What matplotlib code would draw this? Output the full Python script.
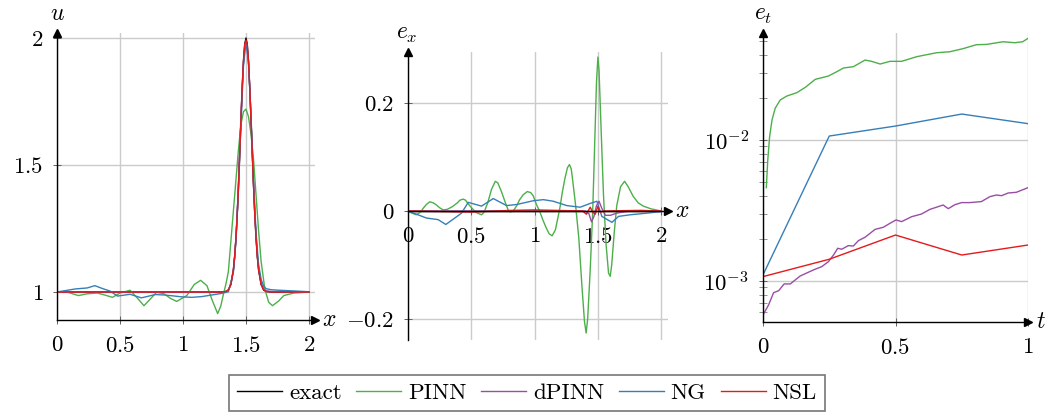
import numpy as np
import matplotlib
matplotlib.use("Agg")
import matplotlib.pyplot as plt
from matplotlib.ticker import FixedLocator, FixedFormatter, LogLocator, NullFormatter
import matplotlib.transforms as mtransforms

plt.rcParams['mathtext.fontset'] = 'cm'
plt.rcParams['font.family'] = ['cmr10', 'DejaVu Serif']
plt.rcParams['axes.formatter.use_mathtext'] = True

# ---------------- data ----------------
series_names = ['exact', 'PINN', 'dPINN', 'NG', 'NSL']
series_colors = ['#000000', '#4daf4a', '#984ea3', '#377eb8', '#e41a1c']

# Panel 1: solution u(x)
x_exact = [0.0, 1.30, 1.34, 1.36, 1.38, 1.40, 1.41, 1.42, 1.43, 1.44, 1.45, 1.46, 1.47, 1.48, 1.49, 1.50,
           1.51, 1.52, 1.53, 1.54, 1.55, 1.56, 1.57, 1.58, 1.59, 1.60, 1.62, 1.64, 1.66, 1.70, 2.0]
u_exact = [1.0, 1.0, 1.002, 1.008, 1.030, 1.087, 1.138, 1.210, 1.302, 1.415, 1.543, 1.677, 1.803, 1.907, 1.976, 2.0,
           1.976, 1.907, 1.803, 1.677, 1.543, 1.415, 1.302, 1.210, 1.138, 1.087, 1.030, 1.008, 1.002, 1.0, 1.0]
u_dpinn = [1.0, 1.0, 1.002, 1.008, 1.030, 1.087, 1.138, 1.210, 1.307, 1.427, 1.563, 1.692, 1.813, 1.907, 1.966, 1.986,
           1.958, 1.895, 1.797, 1.677, 1.548, 1.423, 1.310, 1.218, 1.146, 1.095, 1.036, 1.012, 1.005, 1.002, 1.0]
u_nsl = [1.0, 1.0, 1.002, 1.008, 1.030, 1.089, 1.144, 1.210, 1.299, 1.408, 1.541, 1.679, 1.807, 1.913, 1.976, 1.992,
         1.973, 1.909, 1.803, 1.677, 1.543, 1.415, 1.302, 1.210, 1.138, 1.087, 1.030, 1.008, 1.002, 1.0, 1.0]

x_pinn_u = [0.00, 0.08, 0.13, 0.17, 0.24, 0.32, 0.38, 0.44, 0.50, 0.58, 0.64, 0.69, 0.74, 0.79, 0.85, 0.90, 0.95,
            1.03, 1.09, 1.14, 1.19, 1.23, 1.275, 1.30, 1.32, 1.34, 1.36, 1.38, 1.40, 1.42, 1.44, 1.46, 1.48, 1.50,
            1.52, 1.54, 1.56, 1.58, 1.60, 1.62, 1.65, 1.68, 1.71, 1.76, 1.80, 1.88, 2.00]
u_pinn = [1.000, 1.000, 0.992, 0.986, 0.993, 0.996, 0.988, 0.979, 0.996, 1.007, 0.975, 0.946, 0.972, 0.999, 0.993,
          0.975, 0.963, 0.986, 1.030, 1.046, 1.025, 0.970, 0.915, 0.945, 0.990, 1.030, 1.080, 1.200, 1.320, 1.440,
          1.560, 1.660, 1.710, 1.720, 1.690, 1.620, 1.520, 1.380, 1.240, 1.120, 1.010, 0.960, 0.946, 0.965, 0.986,
          0.996, 1.000]

x_ng_u = [0.0, 0.145, 0.24, 0.30, 0.37, 0.42, 0.48, 0.58, 0.67, 0.78, 0.86, 0.99, 1.07, 1.15, 1.25, 1.30, 1.36,
          1.40, 1.42, 1.44, 1.46, 1.48, 1.50, 1.52, 1.54, 1.56, 1.58, 1.60, 1.62, 1.64, 1.66, 1.70, 1.76, 1.89, 2.0]
u_ng = [1.0, 1.012, 1.016, 1.025, 1.012, 1.004, 0.984, 0.991, 0.977, 0.990, 0.988, 0.981, 0.979, 0.982, 0.990,
        0.994, 1.001, 1.077, 1.198, 1.402, 1.663, 1.891, 1.982, 1.907, 1.692, 1.433, 1.230, 1.108, 1.050, 1.023,
        1.013, 1.009, 1.007, 1.004, 1.001]

# Panel 2: spatial error e_x
x_exact_e = [0.0, 2.0]
e_exact = [0.0, 0.0]
x_pinn_e = [0.00, 0.03, 0.066, 0.10, 0.12, 0.145, 0.172, 0.20, 0.22, 0.25,
            0.277, 0.31, 0.35, 0.39, 0.41, 0.436, 0.455, 0.47, 0.502, 0.54,
            0.581, 0.60, 0.63, 0.66, 0.69, 0.71, 0.74, 0.77, 0.793, 0.81,
            0.832, 0.86, 0.88, 0.91, 0.943, 0.97, 0.99, 1.015, 1.04, 1.065,
            1.09, 1.115, 1.139, 1.165, 1.20, 1.22, 1.24, 1.26, 1.276, 1.29,
            1.30, 1.325, 1.35, 1.375, 1.395, 1.408, 1.42, 1.44, 1.46, 1.475,
            1.49, 1.501, 1.51, 1.525, 1.545, 1.565, 1.585, 1.598, 1.61, 1.63,
            1.65, 1.68, 1.712, 1.74, 1.78, 1.82, 1.86, 1.92, 2.00]
e_pinn = [0.0, -0.004, -0.007, -0.002, 0.005, 0.012, 0.017, 0.015, 0.012, 0.006,
          0.002, 0.003, 0.008, 0.015, 0.020, 0.022, 0.020, 0.015, 0.006, -0.003,
          -0.007, -0.003, 0.015, 0.040, 0.055, 0.052, 0.035, 0.015, 0.001, -0.002,
          0.000, 0.010, 0.020, 0.030, 0.036, 0.034, 0.028, 0.012, 0.000, -0.016,
          -0.030, -0.042, -0.046, -0.035, 0.005, 0.035, 0.060, 0.080, 0.086, 0.078,
          0.060, 0.010, -0.050, -0.140, -0.205, -0.226, -0.200, -0.110, 0.000, 0.120,
          0.240, 0.285, 0.260, 0.160, 0.030, -0.060, -0.115, -0.121, -0.100, -0.040,
          0.010, 0.045, 0.055, 0.045, 0.027, 0.015, 0.009, 0.004, 0.0]
x_dpinn_e = [0.0, 1.40, 1.43, 1.45, 1.47, 1.49, 1.51, 1.53, 1.56, 1.60, 1.65, 1.75, 1.85, 2.0]
e_dpinn = [0.0, 0.0, -0.005, -0.020, -0.010, 0.010, 0.018, 0.006, -0.008, -0.008, -0.004, 0.0, 0.001, 0.0]
x_ng_e = [0.00, 0.145, 0.238, 0.299, 0.37, 0.423, 0.476, 0.581, 0.674, 0.779, 0.859, 0.991, 1.07, 1.149, 1.255,
          1.361, 1.44, 1.493, 1.532, 1.612, 1.664, 1.757, 1.889, 2.00]
e_ng = [0.0, -0.013, -0.016, -0.025, -0.013, -0.004, 0.016, 0.009, 0.023, 0.010, 0.012, 0.019, 0.021, 0.018,
        0.010, 0.007, 0.014, 0.018, -0.010, -0.021, -0.010, -0.007, -0.004, -0.001]
x_nsl_e = [0.0, 0.5, 0.8, 1.0, 1.38, 1.41, 1.44, 1.46, 1.48, 1.50, 1.52, 1.55, 1.8, 2.0]
e_nsl = [0.0, -0.002, 0.001, 0.002, 0.0, -0.006, 0.007, -0.002, -0.006, 0.008, -0.002, 0.0, 0.001, 0.0]

# Panel 3: error over time e_t
t_pinn = [0.0125, 0.018, 0.025, 0.034, 0.046, 0.065, 0.09, 0.128, 0.16, 0.197, 0.247, 0.279, 0.304, 0.341,
          0.385, 0.41, 0.442, 0.479, 0.523, 0.58, 0.655, 0.705, 0.755, 0.805, 0.843, 0.906, 0.95, 0.98, 1.0]
et_pinn = [4.59e-3, 7.21e-3, 1.057e-2, 1.387e-2, 1.679e-2, 1.923e-2, 2.051e-2, 2.168e-2, 2.366e-2, 2.692e-2,
           2.844e-2, 3.055e-2, 3.243e-2, 3.311e-2, 3.690e-2, 3.614e-2, 3.459e-2, 3.614e-2, 3.614e-2, 3.899e-2,
           4.159e-2, 4.227e-2, 4.446e-2, 4.742e-2, 4.764e-2, 4.977e-2, 4.898e-2, 4.977e-2, 5.260e-2]
t_dpinn = [0.0, 0.021, 0.04, 0.059, 0.08, 0.103, 0.14, 0.19, 0.222, 0.247, 0.266, 0.282, 0.297, 0.322, 0.341,
           0.36, 0.385, 0.404, 0.423, 0.454, 0.479, 0.502, 0.523, 0.561, 0.598, 0.63, 0.68, 0.699, 0.724, 0.749,
           0.78, 0.824, 0.856, 0.881, 0.9, 0.925, 0.956, 1.0]
et_dpinn = [5.74e-4, 6.76e-4, 8.26e-4, 8.53e-4, 9.53e-4, 9.53e-4, 1.084e-3, 1.197e-3, 1.265e-3, 1.371e-3,
            1.528e-3, 1.706e-3, 1.679e-3, 1.782e-3, 1.770e-3, 1.932e-3, 2.042e-3, 2.178e-3, 2.323e-3, 2.404e-3,
            2.564e-3, 2.710e-3, 2.636e-3, 2.858e-3, 2.985e-3, 3.221e-3, 3.459e-3, 3.258e-3, 3.475e-3, 3.597e-3,
            3.597e-3, 3.656e-3, 3.963e-3, 4.074e-3, 4.027e-3, 4.207e-3, 4.256e-3, 4.592e-3]
t_ng = [0.0, 0.25, 0.5, 0.75, 1.0]
et_ng = [1.104e-3, 1.067e-2, 1.256e-2, 1.528e-2, 1.306e-2]
t_nsl = [0.0, 0.25, 0.5, 0.75, 1.0]
et_nsl = [1.074e-3, 1.426e-3, 2.118e-3, 1.528e-3, 1.799e-3]

ticks_x = [0, 0.5, 1, 1.5, 2]
ticklabels_x = ['0', '0.5', '1', '1.5', '2']
ticks_u = [1, 1.5, 2]
ticklabels_u = ['1', '1.5', '2']
ticks_e = [-0.2, 0, 0.2]
ticklabels_e = ['-0.2', '0', '0.2']
ticks_t = [0, 0.5, 1]
ticklabels_t = ['0', '0.5', '1']
ticks_et = [1e-3, 1e-2]
ticklabels_et = ['10^{-3}', '10^{-2}']

# ---------------- figure ----------------
W, H = 1054, 420
fig = plt.figure(figsize=(W / 100, H / 100), dpi=100)

def box(l, t, r, b):
    return [l / W, 1 - b / H, (r - l) / W, (b - t) / H]

ax1 = fig.add_axes(box(57, 33, 315, 320))
ax2 = fig.add_axes(box(408, 52, 668, 340))
ax3 = fig.add_axes(box(763, 33, 1028, 322))

GRID = '#cbcbcb'
TICK = '#606060'
LW = 1.0
FS_TICK = 16.5
FS_LAB = 17

def style(ax):
    for s in ['top', 'right']:
        ax.spines[s].set_visible(False)
    for s in ['left', 'bottom']:
        ax.spines[s].set_linewidth(1.0)
        ax.spines[s].set_color('black')
        ax.spines[s].set_zorder(5)
    ax.grid(True, which='major', color=GRID, lw=1.0)
    ax.set_axisbelow(True)
    ax.tick_params(which='both', direction='inout', length=6, width=0.7, color=TICK,
                   labelsize=FS_TICK)
    ax.tick_params(axis='x', pad=8.5)
    ax.tick_params(axis='y', pad=7)

def math(lbls):
    return ['$' + s + '$' for s in lbls]

def arrows(ax, xy_x_trans=None):
    ax.plot([1], [0], marker='>', ms=6, color='k', transform=ax.transAxes if xy_x_trans is None else xy_x_trans,
            clip_on=False, zorder=6)
    ax.plot([0], [1], marker='^', ms=6, color='k', transform=ax.transAxes, clip_on=False, zorder=6)

# Panel 1
for xs, ys, c in [(x_exact, u_exact, series_colors[0]), (x_pinn_u, u_pinn, series_colors[1]),
                  (x_exact, u_dpinn, series_colors[2]), (x_ng_u, u_ng, series_colors[3]),
                  (x_exact, u_nsl, series_colors[4])]:
    ax1.plot(xs, ys, color=c, lw=LW)
ax1.set_xlim(0, 2.0476)
ax1.set_ylim(0.8898, 2.0197)
ax1.xaxis.set_major_locator(FixedLocator(ticks_x))
ax1.xaxis.set_major_formatter(FixedFormatter(math(ticklabels_x)))
ax1.yaxis.set_major_locator(FixedLocator(ticks_u))
ax1.yaxis.set_major_formatter(FixedFormatter(math(ticklabels_u)))
style(ax1)
arrows(ax1)

# Panel 2
for xs, ys, c in [(x_exact_e, e_exact, series_colors[0]), (x_pinn_e, e_pinn, series_colors[1]),
                  (x_dpinn_e, e_dpinn, series_colors[2]), (x_ng_e, e_ng, series_colors[3]),
                  (x_nsl_e, e_nsl, series_colors[4])]:
    ax2.plot(xs, ys, color=c, lw=LW)
ax2.set_xlim(0, 2.055)
ax2.set_ylim(-0.2389, 0.2944)
ax2.xaxis.set_major_locator(FixedLocator(ticks_x))
ax2.xaxis.set_major_formatter(FixedFormatter(math(ticklabels_x)))
ax2.yaxis.set_major_locator(FixedLocator(ticks_e))
ax2.yaxis.set_major_formatter(FixedFormatter(math(ticklabels_e)))
style(ax2)
ax2.spines['bottom'].set_position(('data', 0))
arrows(ax2, mtransforms.blended_transform_factory(ax2.transAxes, ax2.transData))

# Panel 3
for xs, ys, c in [(t_pinn, et_pinn, series_colors[1]), (t_dpinn, et_dpinn, series_colors[2]),
                  (t_ng, et_ng, series_colors[3]), (t_nsl, et_nsl, series_colors[4])]:
    ax3.plot(xs, ys, color=c, lw=LW)
ax3.set_yscale('log')
ax3.set_xlim(0, 1)
ax3.set_ylim(10 ** -3.291, 10 ** -1.241)
ax3.xaxis.set_major_locator(FixedLocator(ticks_t))
ax3.xaxis.set_major_formatter(FixedFormatter(math(ticklabels_t)))
ax3.yaxis.set_major_locator(FixedLocator(ticks_et))
ax3.yaxis.set_major_formatter(FixedFormatter(math(ticklabels_et)))
ax3.yaxis.set_minor_locator(LogLocator(base=10, subs=np.arange(2, 10)))
ax3.yaxis.set_minor_formatter(NullFormatter())
style(ax3)
ax3.tick_params(axis='y', which='minor', length=6, width=0.6, color='#808080')
arrows(ax3)

# axis labels
def ftext(x, y, s, ha='center'):
    fig.text(x / W, 1 - y / H, s, ha=ha, va='center', fontsize=FS_LAB)

ftext(57, 14, '$u$')
ftext(322, 320, '$x$', ha='left')
ftext(407, 34, '$e_x$')
ftext(675, 211, '$x$', ha='left')
ftext(763, 15, '$e_t$')
ftext(1036, 322, '$t$', ha='left')

# legend
handles = [plt.Line2D([], [], color=c, lw=LW) for c in series_colors]
leg = fig.legend(handles, series_names, loc='center', bbox_to_anchor=(527 / W, 1 - 393 / H), ncol=5,
                 prop={'family': 'cmr10', 'size': 16.5}, frameon=True, fancybox=False, edgecolor='#555555',
                 handlelength=1.95, handletextpad=0.3, columnspacing=0.65, borderpad=0.35)
leg.get_frame().set_linewidth(1.2)

fig.savefig('out.png', dpi=100)
